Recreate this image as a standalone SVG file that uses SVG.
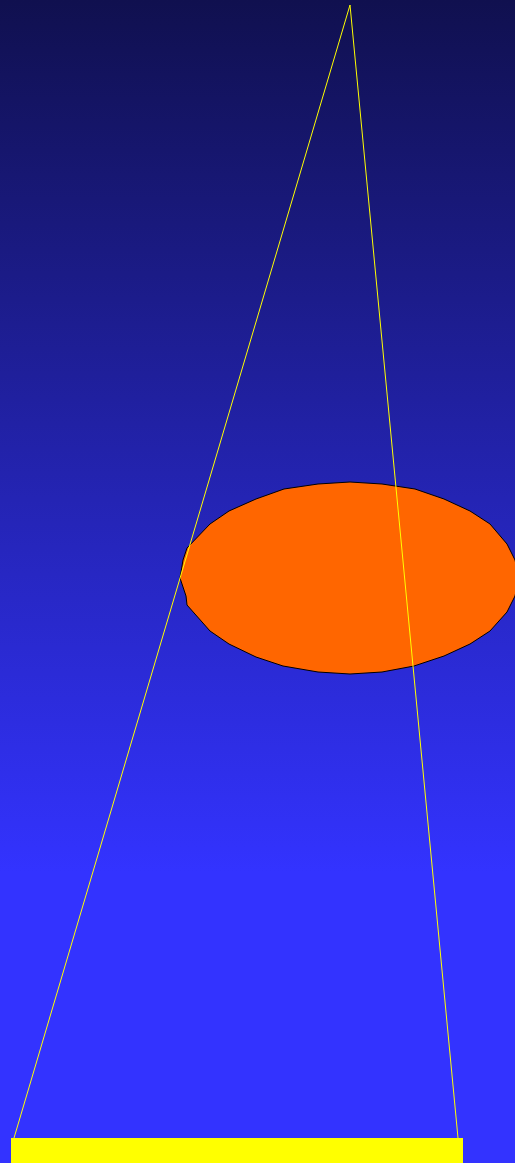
<svg xmlns="http://www.w3.org/2000/svg" width="515" height="1163" viewBox="0 0 515 1163">
<defs>
<linearGradient id="bg" x1="0" y1="0" x2="0" y2="1163" gradientUnits="userSpaceOnUse">
<stop offset="0" stop-color="#10104f"/>
<stop offset="0.75" stop-color="#3333ff"/>
<stop offset="1" stop-color="#3333ff"/>
</linearGradient>
<style>
.ray{stroke:#ffff00;stroke-width:1;fill:none}
</style>
</defs>
<rect x="0" y="0" width="515" height="1163" fill="url(#bg)"/>
<polygon points="350,482 382,484 415,489 444,499 470,511 490,524 507,544 515,560 519,578 515,596 507,612 490,631 470,644 444,656 414,666 382,672 350,674 318,672 283,666 256,657 229,644 210,631 187,605 186,596 180,578 183,560 187,548 210,524 229,511 256,499 284,489 318,484" fill="#ff6600" stroke="#000000" stroke-width="1"/>
<rect x="11" y="1138" width="452" height="25" fill="#ffff00"/>
<g id="rays">
<line class="ray" x1="350" y1="5" x2="14" y2="1138"/>
<line class="ray" x1="350" y1="5" x2="458" y2="1138"/>
</g>
</svg>
